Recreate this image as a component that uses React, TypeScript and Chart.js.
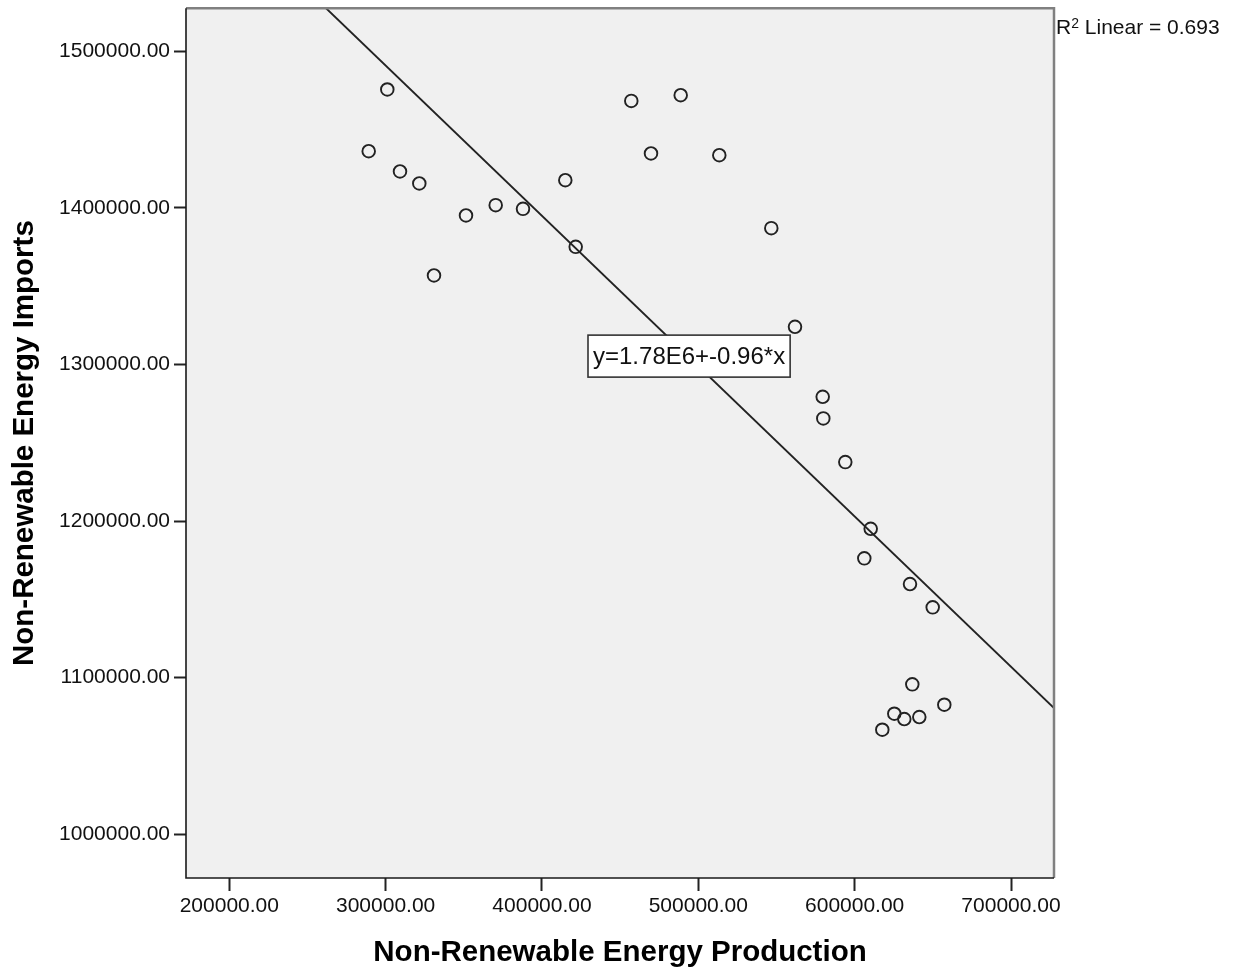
import React, { useEffect, useRef } from "react";
import { Chart, registerables } from "chart.js";

Chart.register(...registerables);

// ---- data ----
const production = [
  301062, 289165, 309185, 321530, 330932, 351401, 370398, 387860, 414916, 421568,
  457132, 488730, 469733, 513419, 546680, 561840, 579557, 579941, 594013, 610260,
  606166, 635397, 649917, 636868, 657337, 625355, 631751, 641346, 617680,
];
const imports = [
  1475552, 1436167, 1423210, 1415550, 1356824, 1395123, 1401698, 1399336, 1417656, 1375080,
  1468275, 1471914, 1434699, 1433614, 1387016, 1324014, 1279331, 1265543, 1237648, 1195072,
  1176178, 1159773, 1144900, 1095749, 1082727, 1076982, 1073599, 1074876, 1066769,
];
const xTicks = [200000, 300000, 400000, 500000, 600000, 700000];
const yTicks = [1000000, 1100000, 1200000, 1300000, 1400000, 1500000];
const xRange = [172304, 727504];
const yRange = [972105, 1527448];
const fitIntercept = 1778720;
const fitSlope = -0.9596;
const equationText = "y=1.78E6+-0.96*x";
const equationAnchor = [429436, 1305311]; // left-middle of the label box, data units
const rSquaredText = "0.693";
const xTitle = "Non-Renewable Energy Production";
const yTitle = "Non-Renewable Energy Imports";

const FONT = '"Liberation Sans", Arial, Helvetica, sans-serif';

const decorPlugin = {
  id: "spssDecor",
  beforeDraw(chart: any) {
    const { ctx, chartArea: a } = chart;
    ctx.save();
    ctx.fillStyle = "#f0f0f0";
    ctx.fillRect(a.left, a.top, a.right - a.left, a.bottom - a.top);
    ctx.restore();
  },
  afterDatasetsDraw(chart: any) {
    const { ctx, chartArea: a } = chart;
    const xs = chart.scales.x;
    const ys = chart.scales.y;
    ctx.save();
    // equation label box
    ctx.font = `24px ${FONT}`;
    const tw = ctx.measureText(equationText).width;
    const bx = xs.getPixelForValue(equationAnchor[0]);
    const by = ys.getPixelForValue(equationAnchor[1]);
    const bw = tw + 10;
    const bh = 42;
    ctx.fillStyle = "#ffffff";
    ctx.fillRect(bx, by - bh / 2, bw, bh);
    ctx.strokeStyle = "#333333";
    ctx.lineWidth = 1.6;
    ctx.strokeRect(bx, by - bh / 2, bw, bh);
    ctx.fillStyle = "#111111";
    ctx.textBaseline = "alphabetic";
    ctx.textAlign = "left";
    ctx.fillText(equationText, bx + 5, by + 8);

    // frame
    ctx.strokeStyle = "#808080";
    ctx.lineWidth = 2.5;
    ctx.beginPath();
    ctx.moveTo(a.left, a.top);
    ctx.lineTo(a.right, a.top);
    ctx.lineTo(a.right, a.bottom);
    ctx.stroke();
    ctx.strokeStyle = "#1a1a1a";
    ctx.lineWidth = 1.6;
    ctx.beginPath();
    ctx.moveTo(a.left, a.top);
    ctx.lineTo(a.left, a.bottom);
    ctx.lineTo(a.right, a.bottom);
    ctx.stroke();

    // R² text
    const rx = a.right + 2;
    const ry = a.top + 26;
    ctx.fillStyle = "#111111";
    ctx.font = `21px ${FONT}`;
    ctx.fillText("R", rx, ry);
    let cx = rx + ctx.measureText("R").width;
    ctx.font = `14px ${FONT}`;
    ctx.fillText("2", cx, ry - 6);
    cx += ctx.measureText("2").width;
    ctx.font = `21px ${FONT}`;
    ctx.fillText(" Linear = " + rSquaredText, cx, ry);
    ctx.restore();
  },
};

export default function App() {
  const ref = useRef<HTMLCanvasElement | null>(null);

  useEffect(() => {
    if (!ref.current) return;
    const points = production.map((x, i) => ({ x, y: imports[i] }));
    const fitLine = xRange.map((x) => ({ x, y: fitIntercept + fitSlope * x }));
    const chart = new Chart(ref.current, {
      type: "scatter",
      data: {
        datasets: [
          {
            data: points,
            pointRadius: 6.3,
            pointBorderWidth: 1.9,
            pointBorderColor: "#222222",
            pointBackgroundColor: "rgba(0,0,0,0)",
            showLine: false,
          },
          {
            data: fitLine,
            showLine: true,
            pointRadius: 0,
            borderColor: "#222222",
            borderWidth: 1.9,
          },
        ],
      },
      options: {
        animation: false,
        responsive: false,
        maintainAspectRatio: false,
        layout: { padding: { top: 8, right: 182, left: 0, bottom: 0 } },
        plugins: { legend: { display: false }, tooltip: { enabled: false } },
        events: [],
        scales: {
          x: {
            type: "linear",
            position: "bottom",
            min: xRange[0],
            max: xRange[1],
            afterBuildTicks: (s: any) => {
              s.ticks = xTicks.map((value) => ({ value }));
            },
            afterFit: (s: any) => {
              s.height = 94;
              s.paddingLeft = 0;
              s.paddingRight = 0;
            },
            ticks: {
              callback: (v: any) => Number(v).toFixed(2),
              font: { size: 21, family: FONT },
              color: "#111111",
              padding: 3,
              maxRotation: 0,
              autoSkip: false,
            },
            grid: {
              drawOnChartArea: false,
              drawTicks: true,
              tickLength: 13,
              tickColor: "#222222",
              tickWidth: 2,
            },
            border: { display: false },
            title: {
              display: true,
              text: xTitle,
              font: { size: 29.5, weight: "bold", family: FONT },
              color: "#000000",
              padding: { top: 0, bottom: 1 },
            },
          },
          y: {
            type: "linear",
            position: "left",
            min: yRange[0],
            max: yRange[1],
            afterBuildTicks: (s: any) => {
              s.ticks = yTicks.map((value) => ({ value }));
            },
            afterFit: (s: any) => {
              s.width = 186;
              s.paddingTop = 0;
              s.paddingBottom = 0;
            },
            ticks: {
              callback: (v: any) => Number(v).toFixed(2),
              font: { size: 21, family: FONT },
              color: "#111111",
              padding: 4,
              autoSkip: false,
            },
            grid: {
              drawOnChartArea: false,
              drawTicks: true,
              tickLength: 12,
              tickColor: "#222222",
              tickWidth: 2,
            },
            border: { display: false },
            title: {
              display: true,
              text: yTitle,
              font: { size: 29.5, weight: "bold", family: FONT },
              color: "#000000",
              padding: { top: 7, bottom: 0 },
            },
          },
        },
      },
      plugins: [decorPlugin],
    } as any);
    return () => chart.destroy();
  }, []);

  return (
    <div style={{ position: "absolute", left: 0, top: 0, width: 1236, height: 972, background: "#ffffff" }}>
      <canvas ref={ref} width={1236} height={972} style={{ display: "block", width: 1236, height: 972 }} />
    </div>
  );
}
